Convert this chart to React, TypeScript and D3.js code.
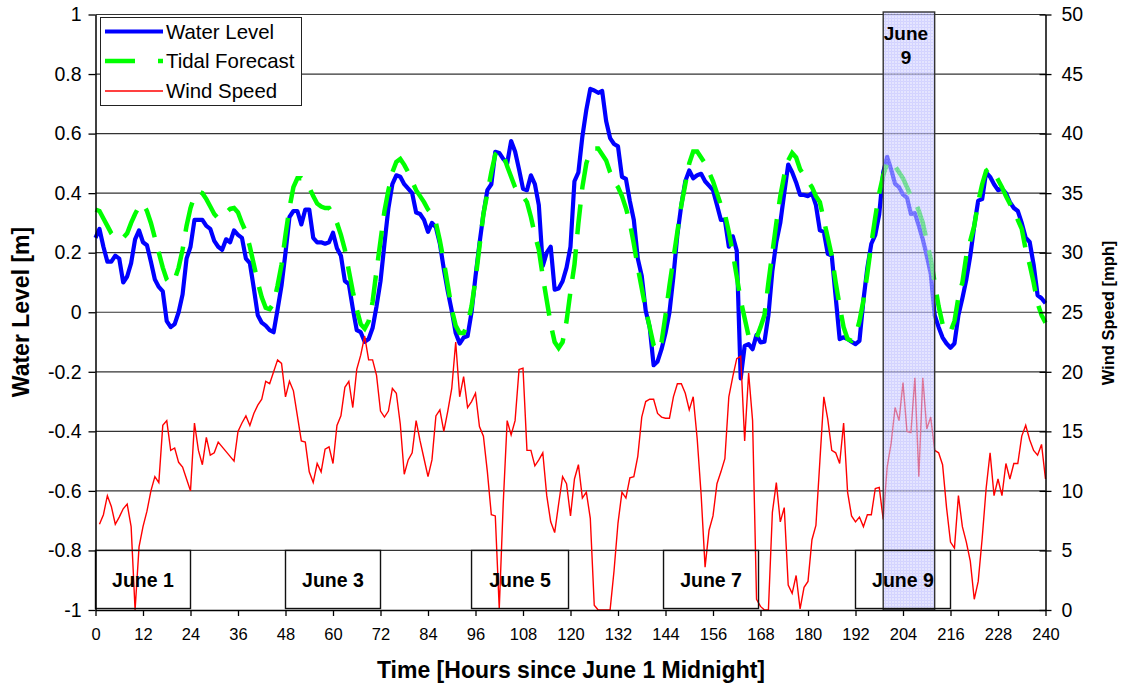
import React, { useEffect, useRef } from 'react'
import * as d3 from 'd3'

const FONT = "Arial, 'Liberation Sans', Helvetica, sans-serif"

// hourly readings, hour 0 .. 240
const hours = d3.range(0, 241)
const windHours = d3.range(1, 241)

const waterLevel = [
  0.25, 0.28, 0.22, 0.17, 0.17, 0.19, 0.18, 0.10, 0.12, 0.165, 0.245, 0.275,
  0.235, 0.225, 0.17, 0.11, 0.085, 0.07, -0.03, -0.05, -0.04, 0.00, 0.06, 0.18,
  0.22, 0.31, 0.31, 0.31, 0.29, 0.28, 0.24, 0.22, 0.21, 0.245, 0.235, 0.275,
  0.26, 0.25, 0.18, 0.165, 0.08, -0.01, -0.035, -0.045, -0.06, -0.067, 0.01, 0.09,
  0.20, 0.32, 0.34, 0.34, 0.295, 0.345, 0.345, 0.25, 0.235, 0.235, 0.23, 0.235,
  0.267, 0.215, 0.19, 0.105, 0.095, 0.013, -0.06, -0.067, -0.099, -0.09, -0.053, 0.02,
  0.104, 0.23, 0.35, 0.43, 0.46, 0.455, 0.43, 0.415, 0.40, 0.335, 0.33, 0.31,
  0.27, 0.30, 0.285, 0.23, 0.145, 0.07, 0.005, -0.07, -0.105, -0.085, -0.08, 0.00,
  0.12, 0.23, 0.33, 0.41, 0.43, 0.539, 0.535, 0.515, 0.50, 0.575, 0.54, 0.48,
  0.415, 0.41, 0.46, 0.43, 0.36, 0.156, 0.20, 0.22, 0.076, 0.08, 0.104, 0.15,
  0.22, 0.44, 0.47, 0.59, 0.68, 0.75, 0.745, 0.737, 0.743, 0.642, 0.585, 0.565,
  0.557, 0.455, 0.448, 0.373, 0.31, 0.18, 0.122, 0.005, -0.05, -0.178, -0.165, -0.124,
  -0.07, 0.0, 0.12, 0.26, 0.36, 0.44, 0.476, 0.45, 0.46, 0.465, 0.44, 0.425,
  0.41, 0.36, 0.31, 0.31, 0.22, 0.255, 0.207, -0.222, -0.113, -0.107, -0.124, -0.076,
  -0.101, -0.099, -0.01, 0.139, 0.236, 0.30, 0.40, 0.496, 0.47, 0.436, 0.394, 0.394,
  0.39, 0.40, 0.36, 0.275, 0.27, 0.196, 0.19, 0.05, -0.09, -0.084, -0.09, -0.099,
  -0.107, -0.096, 0.04, 0.15, 0.23, 0.26, 0.33, 0.47, 0.522, 0.48, 0.431, 0.42,
  0.395, 0.385, 0.33, 0.333, 0.29, 0.245, 0.19, 0.13, -0.01, -0.05, -0.085, -0.105,
  -0.119, -0.105, -0.01, 0.047, 0.11, 0.19, 0.29, 0.375, 0.38, 0.47, 0.455, 0.43,
  0.41, 0.415, 0.40, 0.37, 0.35, 0.34, 0.30, 0.25, 0.236, 0.16, 0.057, 0.047,
  0.03
]

const tidalForecast = [
  0.345, 0.34, 0.315, 0.29, 0.265, 0.25, 0.245, 0.25, 0.265, 0.30, 0.33, 0.355,
  0.365, 0.34, 0.30, 0.25, 0.20, 0.15, 0.11, 0.095, 0.11, 0.15, 0.21, 0.29,
  0.35, 0.39, 0.405, 0.40, 0.38, 0.355, 0.33, 0.315, 0.32, 0.335, 0.347, 0.35,
  0.335, 0.30, 0.27, 0.22, 0.16, 0.10, 0.05, 0.015, 0.01, 0.03, 0.09, 0.16,
  0.26, 0.35, 0.42, 0.45, 0.45, 0.435, 0.42, 0.39, 0.365, 0.355, 0.35, 0.35,
  0.33, 0.30, 0.26, 0.21, 0.14, 0.07, 0.01, -0.04, -0.055, -0.03, 0.035, 0.14,
  0.24, 0.34, 0.41, 0.47, 0.505, 0.515, 0.495, 0.47, 0.44, 0.41, 0.39, 0.37,
  0.345, 0.33, 0.30, 0.24, 0.17, 0.09, 0.01, -0.045, -0.07, -0.07, -0.04, 0.02,
  0.11, 0.22, 0.33, 0.40, 0.47, 0.53, 0.545, 0.53, 0.49, 0.455, 0.42, 0.40,
  0.39, 0.37, 0.32, 0.26, 0.21, 0.12, 0.04, -0.04, -0.10, -0.12, -0.10, -0.03,
  0.07, 0.16, 0.30, 0.42, 0.50, 0.54, 0.55, 0.55, 0.53, 0.51, 0.47, 0.44,
  0.42, 0.39, 0.35, 0.30, 0.23, 0.15, 0.08, 0.01, -0.05, -0.11, -0.13, -0.10,
  -0.01, 0.09, 0.18, 0.27, 0.36, 0.43, 0.50, 0.54, 0.54, 0.52, 0.50, 0.47,
  0.44, 0.40, 0.36, 0.33, 0.27, 0.20, 0.12, 0.04, -0.02, -0.08, -0.10, -0.085,
  -0.05, -0.01, 0.10, 0.20, 0.30, 0.39, 0.46, 0.51, 0.535, 0.52, 0.48, 0.46,
  0.44, 0.42, 0.39, 0.37, 0.31, 0.25, 0.19, 0.10, 0.02, -0.05, -0.09, -0.096,
  -0.08, -0.03, 0.04, 0.13, 0.23, 0.32, 0.40, 0.46, 0.50, 0.51, 0.49, 0.47,
  0.45, 0.42, 0.39, 0.375, 0.34, 0.30, 0.24, 0.18, 0.10, 0.02, -0.04, -0.065,
  -0.065, -0.03, 0.05, 0.10, 0.19, 0.24, 0.29, 0.37, 0.43, 0.475, 0.484, 0.47,
  0.445, 0.42, 0.39, 0.365, 0.34, 0.31, 0.28, 0.21, 0.16, 0.10, 0.03, -0.01,
  -0.035
]

// hour 1 .. 240
const windSpeed = [
  7.2, 8.0, 9.6, 8.7, 7.2, 7.8, 8.5, 8.9, 7.0, 0, 5.3, 7.0,
  8.3, 10.0, 11.2, 10.7, 15.5, 15.9, 13.4, 13.6, 12.4, 12.0, 11.0, 10.0,
  15.7, 13.4, 12.2, 14.5, 13.0, 13.2, 14.1, 13.7, 13.3, 12.9, 12.5, 15.0,
  15.7, 16.3, 15.5, 16.5, 17.2, 17.7, 19.2, 19.0, 20.0, 21.0, 20.7, 17.9,
  19.2, 18.4, 16.3, 14.2, 14.1, 11.6, 10.7, 12.3, 11.6, 13.5, 13.7, 12.3,
  15.5, 16.3, 18.7, 19.2, 17.0, 20.2, 21.4, 23.0, 21.0, 21.0, 19.7, 16.7,
  16.2, 16.7, 18.6, 18.2, 15.6, 11.4, 12.6, 13.2, 15.9, 14.2, 12.7, 11.2,
  12.6, 16.3, 16.8, 15.0, 16.7, 18.6, 22.5, 17.9, 19.6, 17.0, 17.5, 18.2,
  15.4, 14.6, 11.6, 8.0, 7.9, 0.1, 8.9, 15.9, 14.7, 15.9, 20.2, 20.3,
  13.4, 13.4, 12.1, 12.6, 13.2, 9.6, 7.4, 6.5, 8.9, 11.2, 10.6, 7.9,
  11.0, 12.2, 9.4, 9.9, 7.7, 0.4, 0, 0, 0, 0, 3.3, 7.3,
  9.9, 9.4, 11.1, 11.2, 12.9, 16.2, 17.5, 17.7, 17.7, 16.5, 16.2, 16.1,
  16.1, 17.9, 19.0, 19.0, 18.2, 16.8, 17.9, 14.4, 9.7, 3.6, 6.7, 7.9,
  10.6, 11.6, 12.7, 17.9, 19.6, 21.1, 21.3, 14.2, 19.9, 15.9, 0.9, 0.3,
  0, 0, 8.2, 10.7, 7.4, 8.6, 2.1, 1.4, 2.9, 0.1, 1.9, 2.4,
  5.9, 7.1, 12.5, 17.9, 16.0, 13.4, 13.2, 12.3, 15.7, 9.9, 7.9, 7.4,
  7.8, 7.0, 8.0, 8.0, 10.2, 10.3, 7.6, 12.0, 14.0, 17.0, 15.9, 19.1,
  15.0, 14.9, 19.5, 11.2, 19.5, 15.2, 16.2, 13.4, 13.2, 12.2, 8.6, 5.7,
  5.2, 9.6, 7.0, 5.7, 4.1, 0.9, 2.4, 6.0, 10.2, 13.2, 9.6, 11.0,
  9.6, 12.3, 11.0, 12.3, 12.3, 14.6, 15.5, 14.3, 13.4, 13.0, 13.9, 11.0
]

const xTicks = [0, 12, 24, 36, 48, 60, 72, 84, 96, 108, 120, 132, 144, 156, 168, 180, 192, 204, 216, 228, 240]
const levelTicks = [1, 0.8, 0.6, 0.4, 0.2, 0, -0.2, -0.4, -0.6, -0.8, -1]
const levelLabels = ['1', '0.8', '0.6', '0.4', '0.2', '0', '-0.2', '-0.4', '-0.6', '-0.8', '-1']
const windTicks = [0, 5, 10, 15, 20, 25, 30, 35, 40, 45, 50]

const dayLabels = ['June 1', 'June 3', 'June 5', 'June 7', 'June 9']
const dayStart = [0, 48, 95, 143.5, 192]
const dayEnd = [24, 72, 119.5, 167.5, 216]
const highlightStart = 199
const highlightEnd = 212

const seriesNames = ['Water Level', 'Tidal Forecast', 'Wind Speed']

export default function App() {
  const ref = useRef<SVGSVGElement>(null)

  useEffect(() => {
    const svg = d3.select(ref.current)
    svg.selectAll('*').remove()

    const x = d3.scaleLinear().domain([0, 240]).range([95.5, 1045.5])
    const yL = d3.scaleLinear().domain([-1, 1]).range([610, 14.5])
    const yR = d3.scaleLinear().domain([0, 50]).range([610, 14.5])

    const defs = svg.append('defs')
    const pat = defs.append('pattern')
      .attr('id', 'hatch9')
      .attr('width', 3).attr('height', 3)
      .attr('patternUnits', 'userSpaceOnUse')
    pat.append('rect').attr('width', 3).attr('height', 3).attr('fill', '#d4d4ff')
    pat.append('path').attr('d', 'M3,0.5H0.5V3').attr('stroke', '#a8a8ff').attr('stroke-width', 0.7).attr('fill', 'none')

    // grid
    svg.append('g')
      .selectAll('line')
      .data(levelTicks.filter(t => t > -1))
      .enter()
      .append('line')
        .attr('x1', x(0)).attr('x2', x(240))
        .attr('y1', d => yL(d)).attr('y2', d => yL(d))
        .attr('stroke', '#333').attr('stroke-width', 1.2)

    const lineL = d3.line<number>().x((d, i) => x(hours[i])).y(d => yL(d))
    const lineR = d3.line<number>().x((d, i) => x(windHours[i])).y(d => yR(d))

    svg.append('path')
      .attr('d', lineL(waterLevel))
      .attr('fill', 'none').attr('stroke', '#0000ff').attr('stroke-width', 4.2)
      .attr('stroke-linejoin', 'round')

    svg.append('path')
      .attr('d', lineL(tidalForecast))
      .attr('fill', 'none').attr('stroke', '#00ff00').attr('stroke-width', 4.5)
      .attr('stroke-dasharray', '30 15')

    svg.append('path')
      .attr('d', lineR(windSpeed))
      .attr('fill', 'none').attr('stroke', '#ff0000').attr('stroke-width', 1.4)

    // highlighted period
    svg.append('rect')
      .attr('x', x(highlightStart)).attr('y', 12)
      .attr('width', x(highlightEnd) - x(highlightStart)).attr('height', 610 - 12)
      .attr('fill', 'url(#hatch9)').attr('fill-opacity', 0.6)
    svg.append('rect')
      .attr('x', x(highlightStart)).attr('y', 12)
      .attr('width', x(highlightEnd) - x(highlightStart)).attr('height', 610 - 12)
      .attr('fill', 'none').attr('stroke', '#333').attr('stroke-width', 1.4)
    const hl = svg.append('text')
      .attr('font-family', FONT).attr('font-size', 19).attr('font-weight', 'bold')
      .attr('text-anchor', 'middle')
    hl.append('tspan').attr('x', x((highlightStart + highlightEnd) / 2) - 3).attr('y', 40).text('June')
    hl.append('tspan').attr('x', x((highlightStart + highlightEnd) / 2) - 3).attr('y', 64).text('9')

    // day boxes
    const days = svg.append('g')
    dayLabels.forEach((label, i) => {
      days.append('rect')
        .attr('x', x(dayStart[i])).attr('y', yL(-0.8))
        .attr('width', x(dayEnd[i]) - x(dayStart[i])).attr('height', yL(-0.995) - yL(-0.8))
        .attr('fill', 'none').attr('stroke', '#111').attr('stroke-width', 1.4)
      days.append('text')
        .attr('x', (x(dayStart[i]) + x(dayEnd[i])) / 2)
        .attr('y', (yL(-0.8) + yL(-0.995)) / 2)
        .attr('dy', '0.36em')
        .attr('text-anchor', 'middle')
        .attr('font-family', FONT).attr('font-size', 19.5).attr('font-weight', 'bold')
        .text(label)
    })

    // axes
    const gL = svg.append('g')
      .attr('transform', `translate(${x(0)},0)`)
      .call(d3.axisLeft(yL).tickValues(levelTicks)
        .tickFormat(d => levelLabels[levelTicks.indexOf(d as number)])
        .tickSizeInner(7).tickSizeOuter(0).tickPadding(7))
    gL.attr('font-size', 19.5).attr('font-family', FONT)

    const gR = svg.append('g')
      .attr('transform', `translate(${x(240)},0)`)
      .call(d3.axisRight(yR).tickValues(windTicks).tickSizeInner(6).tickSizeOuter(0).tickPadding(10))
    gR.attr('font-size', 19.5).attr('font-family', FONT)
    gR.selectAll('.tick line').attr('x1', -6)

    const gB = svg.append('g')
      .attr('transform', `translate(0,${yL(-1)})`)
      .call(d3.axisBottom(x).tickValues(xTicks).tickSizeInner(6).tickSizeOuter(0).tickPadding(12))
    gB.attr('font-size', 16.5).attr('font-family', FONT)

    ;[gL, gR, gB].forEach(g => {
      g.select('.domain').attr('stroke', '#000').attr('stroke-width', 1.5)
      g.selectAll('.tick line').attr('stroke', '#000').attr('stroke-width', 1.3)
      g.selectAll('.tick text').attr('fill', '#000')
    })

    // titles
    svg.append('text')
      .attr('x', 571).attr('y', 678)
      .attr('text-anchor', 'middle')
      .attr('font-family', FONT).attr('font-size', 23).attr('font-weight', 'bold')
      .text('Time [Hours since June 1 Midnight]')

    svg.append('text')
      .attr('transform', 'translate(29,312) rotate(-90)')
      .attr('text-anchor', 'middle')
      .attr('font-family', FONT).attr('font-size', 23).attr('font-weight', 'bold')
      .text('Water Level [m]')

    svg.append('text')
      .attr('transform', 'translate(1114,313) rotate(-90)')
      .attr('text-anchor', 'middle')
      .attr('font-family', FONT).attr('font-size', 16.5).attr('font-weight', 'bold')
      .text('Wind Speed [mph]')

    // legend
    const lg = svg.append('g')
    lg.append('rect')
      .attr('x', 100.5).attr('y', 17.5).attr('width', 201).attr('height', 88)
      .attr('fill', '#fff').attr('stroke', '#222').attr('stroke-width', 1)
    const legendY = [31.5, 61, 91]
    const legendStyle = [
      { stroke: '#0000ff', width: 4.2, dash: null },
      { stroke: '#00ff00', width: 4.5, dash: '30 23' },
      { stroke: '#ff0000', width: 1.4, dash: null }
    ]
    seriesNames.forEach((name, i) => {
      lg.append('line')
        .attr('x1', 105).attr('x2', 163)
        .attr('y1', legendY[i]).attr('y2', legendY[i])
        .attr('stroke', legendStyle[i].stroke)
        .attr('stroke-width', legendStyle[i].width)
        .attr('stroke-dasharray', legendStyle[i].dash)
      lg.append('text')
        .attr('x', 166).attr('y', legendY[i]).attr('dy', '0.36em')
        .attr('font-family', FONT).attr('font-size', 20.4)
        .text(name)
    })
  }, [])

  return (
    <svg ref={ref} width={1122} height={688}
      style={{ position: 'absolute', left: 0, top: 0, background: '#fff' }} />
  )
}
